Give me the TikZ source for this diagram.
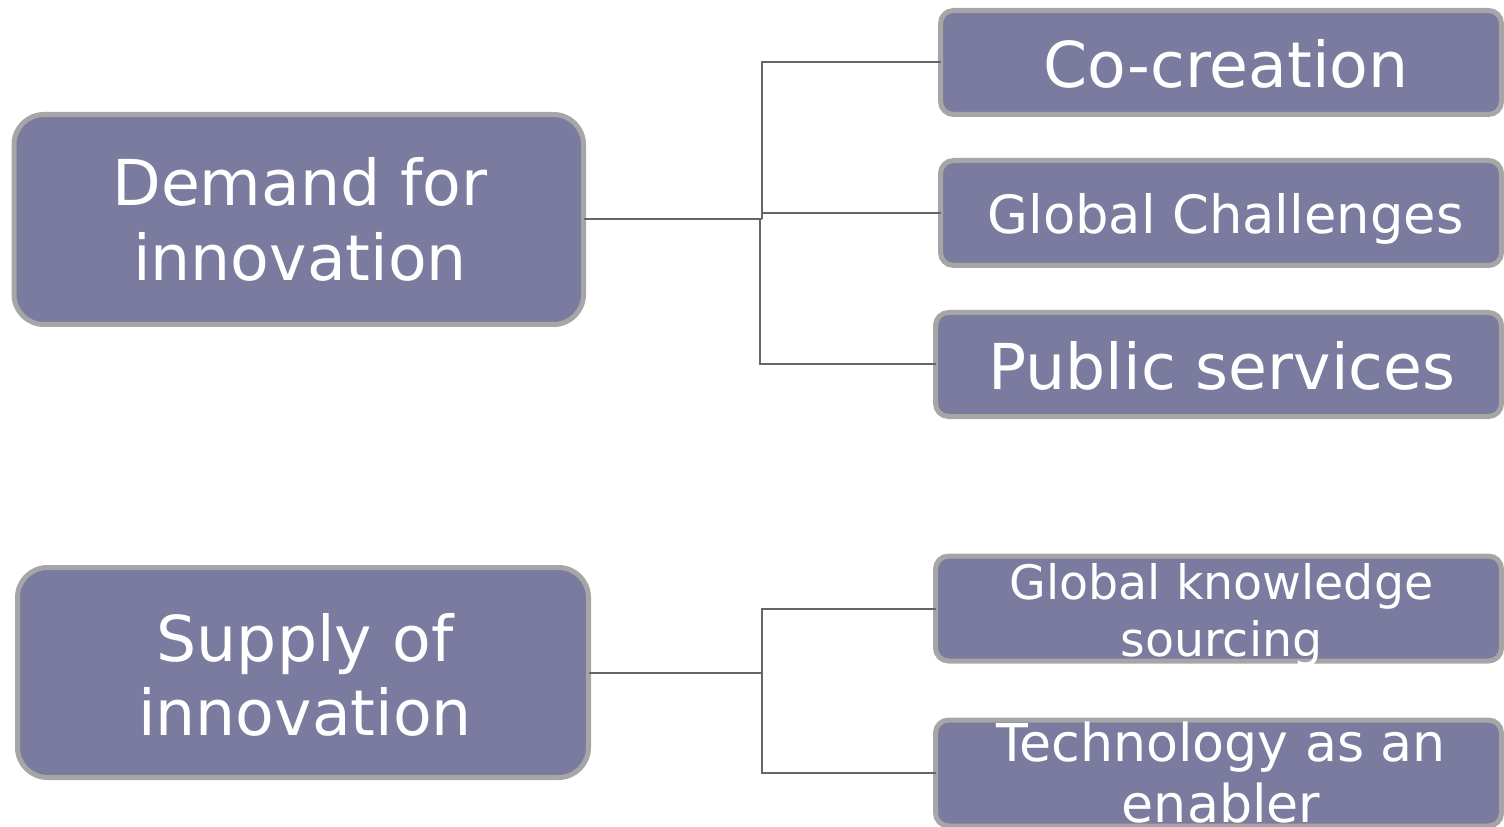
\documentclass[tikz,border=0pt]{standalone}
\usepackage{fontspec}
\setmainfont{DejaVu Sans}
\newlength\pxu
\setlength\pxu{0.02cm}
% two centred lines whose baseline is that of the first line
\newcommand\twoline[2]{\vtop{\halign{\hfil##\hfil\cr#1\cr#2\cr}}}
\definecolor{boxfill}{RGB}{123,123,160}
\definecolor{boxrim}{RGB}{166,166,166}
\definecolor{linkgray}{RGB}{102,102,102}
\tikzset{
  bigbox/.style={draw=boxrim, fill=boxfill, line width=5\pxu, rounded corners=30\pxu,
    inner sep=0pt, outer sep=0pt},
  itembox/.style={draw=boxrim, fill=boxfill, line width=5\pxu, rounded corners=13\pxu,
    inner sep=0pt, outer sep=0pt},
  txt/.style={text=white, inner sep=0pt, anchor=base},
  link/.style={draw=linkgray, line width=2\pxu},
  bigfont/.style={font=\fontsize{36pt}{42.5pt}\selectfont},
}
\begin{document}
\begin{tikzpicture}[x=1\pxu, y=-1\pxu]
\useasboundingbox (0,0) rectangle (1504,827);

% left-hand boxes
\node[bigbox, minimum width=569.5\pxu, minimum height=210\pxu] (demand) at (298.75,219.5) {};
\node[bigbox, minimum width=571\pxu, minimum height=210\pxu] (supply) at (303,672.5) {};

% right-hand boxes
\node[itembox, minimum width=561\pxu, minimum height=104\pxu] (cocre) at (1221,62.5) {};
\node[itembox, minimum width=561\pxu, minimum height=105\pxu] (glob) at (1221,213) {};
\node[itembox, minimum width=566\pxu, minimum height=104\pxu] (pub) at (1218.5,364.5) {};
\node[itembox, minimum width=566\pxu, minimum height=105\pxu] (gks) at (1218.5,608.5) {};
\node[itembox, minimum width=566\pxu, minimum height=106\pxu] (tech) at (1218.5,773) {};

% connectors
\coordinate (dj) at (762,219.5);
\coordinate (djlow) at (759.5,219.5);
\coordinate (sj) at (762,672.5);
\draw[link] (demand.east) -- (dj);
\draw[link] (dj) |- (cocre.west);
\draw[link] (dj) |- (glob.west);
\draw[link] (djlow) |- (pub.west);
\draw[link] (supply.east) -- (sj);
\draw[link] (sj) |- (gks.west);
\draw[link] (sj) |- (tech.west);

% labels
\node[txt, bigfont] (demandtxt) at (300,206) {\twoline{Demand for}{innovation}};
\node[txt, bigfont] (supplytxt) at (305,661) {\twoline{Supply of}{innovation}};
\node[txt, bigfont] (cocretxt) at (1226,88) {Co-creation};
\node[txt, font=\fontsize{30pt}{36pt}\selectfont] (globtxt) at (1225.5,234) {Global Challenges};
\node[txt, bigfont] (pubtxt) at (1222,390) {Public services};
\node[txt, font=\fontsize{27pt}{32.9pt}\selectfont] (gkstxt) at (1221.5,599) {\twoline{Global knowledge}{sourcing}};
\node[txt, font=\fontsize{29.7pt}{35pt}\selectfont] (techtxt) at (1221,761) {\twoline{Technology as an}{enabler}};
\end{tikzpicture}
\end{document}
